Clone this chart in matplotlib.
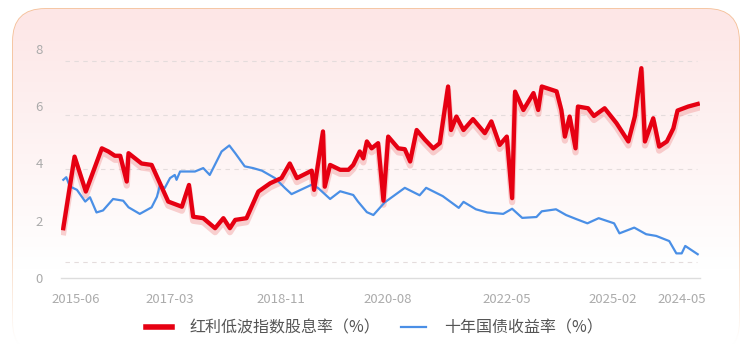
import numpy as np
import matplotlib
matplotlib.use("Agg")
import matplotlib.pyplot as plt
from matplotlib.patches import FancyBboxPatch
from matplotlib.transforms import offset_copy

plt.rcParams['font.family'] = ['Noto Sans CJK SC', 'DejaVu Sans']

# 红利低波指数股息率（%）: x = 月序号（自 2015-06 起）, y = 数值
div_x = [0.0, 1.9, 3.8, 6.5, 7.6, 8.7, 9.6, 10.7, 11.0, 13.2, 14.9, 16.3, 17.7,
         20.0, 21.2, 21.9, 23.6, 25.6, 27.0, 28.1, 29.0, 30.9, 32.9, 34.9, 36.8,
         38.2, 39.4, 41.9, 42.3, 43.8, 44.1, 45.0, 46.7, 48.1, 48.9, 50.0, 50.6,
         51.2, 52.0, 53.1, 54.0, 54.8, 56.5, 57.6, 58.5, 59.6, 61.0, 62.4, 63.5,
         64.9, 65.4, 66.3, 67.5, 69.1, 71.1, 72.2, 73.6, 74.8, 75.7, 76.2, 77.6,
         79.3, 80.1, 80.7, 83.2, 84.0, 84.6, 85.4, 86.4, 86.8, 88.5, 89.5, 91.3,
         93.3, 95.3, 96.4, 97.5, 98.1, 99.5, 100.5, 101.8, 102.9, 103.6, 105.4,
         107.0]
div_y = [1.74, 4.24, 3.02, 4.53, 4.42, 4.27, 4.27, 3.37, 4.36, 4.00, 3.95, 3.31,
         2.67, 2.49, 3.25, 2.14, 2.09, 1.74, 2.09, 1.74, 2.03, 2.09, 3.02, 3.31,
         3.49, 4.00, 3.49, 3.75, 3.08, 5.12, 3.19, 3.95, 3.78, 3.78, 3.95, 4.42,
         4.18, 4.77, 4.53, 4.71, 2.70, 4.94, 4.53, 4.50, 4.07, 5.17, 4.83, 4.53,
         4.71, 6.69, 5.17, 5.64, 5.17, 5.55, 5.06, 5.47, 4.65, 4.94, 2.79, 6.51,
         5.87, 6.46, 5.87, 6.69, 6.52, 5.87, 4.94, 5.64, 4.53, 5.99, 5.93, 5.66,
         5.93, 5.41, 4.77, 5.64, 7.33, 4.77, 5.58, 4.59, 4.77, 5.23, 5.85, 5.99,
         6.08]

# 十年国债收益率（%）
bond_x = [0.0, 0.5, 1.1, 2.3, 3.7, 4.5, 5.6, 6.7, 8.4, 10.1, 11.0, 12.9, 14.9,
          15.8, 16.3, 17.1, 18.0, 18.8, 19.1, 19.7, 22.2, 23.6, 24.7, 26.7, 28.0,
          29.0, 30.6, 32.0, 33.5, 35.7, 37.4, 38.5, 41.9, 43.0, 45.0, 46.7, 48.9,
          49.7, 51.2, 52.3, 54.2, 57.6, 60.1, 61.2, 64.0, 66.7, 67.5, 69.6, 71.5,
          74.2, 75.7, 77.4, 79.8, 80.7, 83.1, 84.8, 86.5, 88.4, 90.3, 92.9, 93.8,
          96.3, 98.3, 100.0, 102.2, 103.4, 104.3, 104.9, 107.0]
bond_y = [3.43, 3.52, 3.20, 3.08, 2.67, 2.82, 2.29, 2.36, 2.76, 2.70, 2.47, 2.24,
          2.47, 2.84, 3.25, 3.14, 3.49, 3.60, 3.43, 3.72, 3.72, 3.84, 3.60, 4.42,
          4.63, 4.36, 3.90, 3.84, 3.75, 3.49, 3.14, 2.93, 3.26, 3.14, 2.76, 3.03,
          2.90, 2.67, 2.30, 2.20, 2.64, 3.15, 2.89, 3.15, 2.86, 2.45, 2.66, 2.40,
          2.29, 2.24, 2.42, 2.10, 2.13, 2.33, 2.40, 2.20, 2.06, 1.91, 2.09, 1.91,
          1.56, 1.76, 1.53, 1.47, 1.29, 0.86, 0.86, 1.12, 0.83]

tick_pos = [2.1, 18.0, 36.7, 54.7, 74.8, 92.7, 104.3]
tick_labels = ["2015-06", "2017-03", "2018-11", "2020-08", "2022-05", "2025-02", "2024-05"]
y_ticks = [0, 2, 4, 6, 8]
grid_levels = [7.59, 5.70, 3.81, 0.56]

RED = "#e60012"
BLUE = "#4a8fe6"
GREY = "#ababab"

W, H = 756, 355
fig = plt.figure(figsize=(W / 100, H / 100), dpi=100)

# 背景卡片（圆角 + 顶部淡粉渐变）
bg = fig.add_axes([0, 0, 1, 1])
bg.set_xlim(0, W); bg.set_ylim(H, 0); bg.axis("off")
card = FancyBboxPatch((13, 9), 726, 345, boxstyle="round,pad=0,rounding_size=32",
                      facecolor="white", edgecolor="#f5c29c", linewidth=1.3)
bg.add_patch(card)
grad = np.ones((200, 1, 4))
t = np.linspace(0, 1, 200)
top = np.array([253, 230, 230]) / 255
for i in range(3):
    grad[:, 0, i] = top[i] + (1 - top[i]) * np.clip(t / 0.75, 0, 1)
im = bg.imshow(grad, extent=(13, 739, 354, 9), aspect="auto", zorder=1)
im.set_clip_path(card)
fade = np.ones((200, 1, 4))
fade[:, 0, 3] = np.clip((t - 0.35) / 0.6, 0, 1)
bg.imshow(fade, extent=(0, W, 355, 120), aspect="auto", zorder=3)
bg.set_xlim(0, W); bg.set_ylim(H, 0)

# 主图
x0, x1 = 61, 700
scale = (697.7 - 63.3) / 107
ax = fig.add_axes([x0 / W, (H - 278) / H, (x1 - x0) / W, (278 - 49) / H])
ax.patch.set_alpha(0)
ax.set_xlim((x0 - 63.3) / scale, (x1 - 63.3) / scale)
ax.set_ylim(0, 8)

for g in grid_levels:
    ax.axhline(g, xmin=0.006, xmax=0.995, color="#e4dcdc", lw=0.8,
               ls=(0, (4, 4)), zorder=1)

shadow = offset_copy(ax.transData, fig=fig, x=0, y=-4, units="dots")
ax.plot(div_x, div_y, color="#f29a9a", lw=4.5, alpha=0.45, transform=shadow,
        solid_joinstyle="round", zorder=2, label="_nolegend_")
ax.plot(bond_x, bond_y, color=BLUE, lw=1.6, solid_joinstyle="round", zorder=3,
        label="十年国债收益率（%）")
ax.plot(div_x, div_y, color=RED, lw=3.1, solid_joinstyle="round", zorder=4,
        label="红利低波指数股息率（%）")

for s in ["top", "right", "left"]:
    ax.spines[s].set_visible(False)
ax.spines["bottom"].set_color("#dddddd")
ax.spines["bottom"].set_linewidth(1.0)

ax.set_yticks(y_ticks)
ax.set_yticklabels([str(v) for v in y_ticks])
ax.set_xticks(tick_pos)
ax.set_xticklabels(tick_labels)
ax.tick_params(axis="y", length=0, pad=13, labelsize=9.5, labelcolor=GREY)
ax.tick_params(axis="x", length=0, pad=11, labelsize=9.5, labelcolor=GREY)

handles, labels = ax.get_legend_handles_labels()
order = [1, 0]
leg = fig.legend([handles[i] for i in order], [labels[i] for i in order],
                 loc="center", bbox_to_anchor=(0.495, 1 - 328 / H), ncol=2,
                 frameon=False, fontsize=11.5, handlelength=1.6, handletextpad=1.1,
                 columnspacing=1.3, labelcolor="#555555")
leg.get_lines()[0].set_linewidth(4)

fig.savefig("out.png", dpi=100)
